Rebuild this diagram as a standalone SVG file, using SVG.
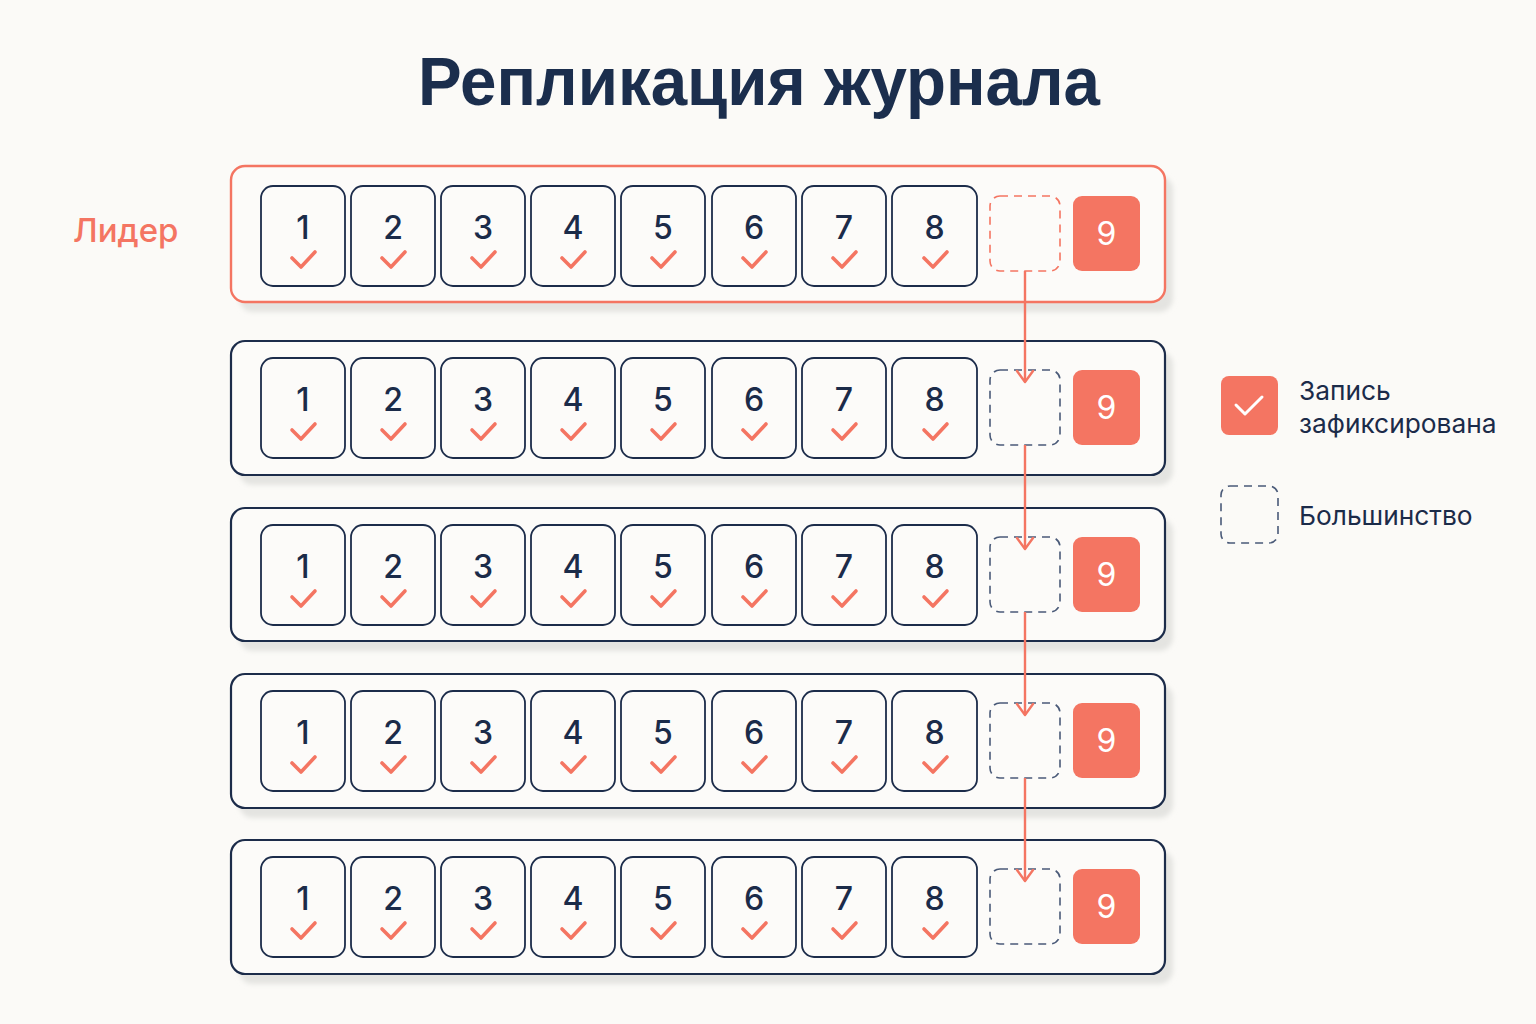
<svg xmlns="http://www.w3.org/2000/svg" xmlns:xlink="http://www.w3.org/1999/xlink" width="1536" height="1024" viewBox="0 0 1536 1024">
<defs>
  <style>
    .bg{fill:#fbfaf7}
    .shadow{fill:#e4e4e1;filter:url(#blur)}
    .row{fill:#fcfbf9;stroke:#1c2c4a;stroke-width:2.2}
    .row.leader{stroke:#f47562;stroke-width:2.4}
    .cell{fill:#fcfbf9;stroke:#1c2c4a;stroke-width:1.8}
    .num{font-family:Inter,"Noto Sans",sans-serif;font-size:32px;font-weight:500;fill:#1b2b49;text-anchor:middle}
    .chk{fill:none;stroke:#f47562;stroke-width:3.6;stroke-linecap:round;stroke-linejoin:round}
    .dash{fill:none;stroke:#4a5a78;stroke-width:1.6;stroke-dasharray:8 6}
    .dash.lead{stroke:#f47562}
    .nine{fill:#f47562}
    .ninet{font-family:Inter,"Noto Sans",sans-serif;font-size:32px;fill:#ffffff;text-anchor:middle}
    .conn{stroke:#f47562;stroke-width:2.4;fill:none}
    .title{font-family:"Liberation Sans",Arial,sans-serif;font-weight:bold;font-size:68px;fill:#1b2e4d;text-anchor:middle}
    .lead-lbl{font-family:Inter,"Noto Sans",sans-serif;font-size:33px;font-weight:500;fill:#f47562}
    .leg{font-family:Inter,"Noto Sans",sans-serif;font-size:26.3px;fill:#1b2b49}
  </style>
  <filter id="blur" x="-5%" y="-20%" width="110%" height="140%">
    <feGaussianBlur stdDeviation="2.5"/>
  </filter>
  <path id="chk" class="chk" d="M -11 -2 L -2 7 L 12 -8"/>
  <marker id="arr" viewBox="-14 -10 16 20" refX="0" refY="0" markerWidth="16" markerHeight="20" markerUnits="userSpaceOnUse" orient="auto">
    <path d="M -11 -8 L 0 0 L -11 8" fill="none" stroke="#f47562" stroke-width="2.4" stroke-linecap="round" stroke-linejoin="round"/>
  </marker>
</defs>
<rect class="bg" x="0" y="0" width="1536" height="1024"/>

<text class="title" x="759" y="105" textLength="682" lengthAdjust="spacingAndGlyphs">Репликация журнала</text>
<text id="leader-label" class="lead-lbl" x="73" y="242">Лидер</text>

<!-- Row 1 (leader) -->
<g id="row1">
  <rect class="shadow" x="239" y="176" width="934" height="136" rx="14"/>
  <rect class="row leader" x="231" y="166" width="934" height="136" rx="14"/>
  <rect class="cell" x="261" y="186" width="84" height="100" rx="12"/><text class="num" x="303" y="239">1</text><use href="#chk" x="303" y="260"/>
  <rect class="cell" x="351" y="186" width="84" height="100" rx="12"/><text class="num" x="393" y="239">2</text><use href="#chk" x="393" y="260"/>
  <rect class="cell" x="441" y="186" width="84" height="100" rx="12"/><text class="num" x="483" y="239">3</text><use href="#chk" x="483" y="260"/>
  <rect class="cell" x="531" y="186" width="84" height="100" rx="12"/><text class="num" x="573" y="239">4</text><use href="#chk" x="573" y="260"/>
  <rect class="cell" x="621" y="186" width="84" height="100" rx="12"/><text class="num" x="663" y="239">5</text><use href="#chk" x="663" y="260"/>
  <rect class="cell" x="712" y="186" width="84" height="100" rx="12"/><text class="num" x="754" y="239">6</text><use href="#chk" x="754" y="260"/>
  <rect class="cell" x="802" y="186" width="84" height="100" rx="12"/><text class="num" x="844" y="239">7</text><use href="#chk" x="844" y="260"/>
  <rect class="cell" x="892" y="186" width="85" height="100" rx="12"/><text class="num" x="934.5" y="239">8</text><use href="#chk" x="935" y="260"/>
  <rect class="dash lead" x="990" y="196" width="70" height="75" rx="10"/>
  <rect class="nine" x="1073" y="196" width="67" height="75" rx="9"/><text class="ninet" x="1106.5" y="245">9</text>
</g>

<!-- Row 2 -->
<g id="row2">
  <rect class="shadow" x="239" y="351" width="934" height="134" rx="14"/>
  <rect class="row" x="231" y="341" width="934" height="134" rx="14"/>
  <rect class="cell" x="261" y="358" width="84" height="100" rx="12"/><text class="num" x="303" y="411">1</text><use href="#chk" x="303" y="432"/>
  <rect class="cell" x="351" y="358" width="84" height="100" rx="12"/><text class="num" x="393" y="411">2</text><use href="#chk" x="393" y="432"/>
  <rect class="cell" x="441" y="358" width="84" height="100" rx="12"/><text class="num" x="483" y="411">3</text><use href="#chk" x="483" y="432"/>
  <rect class="cell" x="531" y="358" width="84" height="100" rx="12"/><text class="num" x="573" y="411">4</text><use href="#chk" x="573" y="432"/>
  <rect class="cell" x="621" y="358" width="84" height="100" rx="12"/><text class="num" x="663" y="411">5</text><use href="#chk" x="663" y="432"/>
  <rect class="cell" x="712" y="358" width="84" height="100" rx="12"/><text class="num" x="754" y="411">6</text><use href="#chk" x="754" y="432"/>
  <rect class="cell" x="802" y="358" width="84" height="100" rx="12"/><text class="num" x="844" y="411">7</text><use href="#chk" x="844" y="432"/>
  <rect class="cell" x="892" y="358" width="85" height="100" rx="12"/><text class="num" x="934.5" y="411">8</text><use href="#chk" x="935" y="432"/>
  <rect class="dash" x="990" y="370" width="70" height="75" rx="10"/>
  <rect class="nine" x="1073" y="370" width="67" height="75" rx="9"/><text class="ninet" x="1106.5" y="419">9</text>
</g>

<!-- Row 3 -->
<g id="row3">
  <rect class="shadow" x="239" y="518" width="934" height="133" rx="14"/>
  <rect class="row" x="231" y="508" width="934" height="133" rx="14"/>
  <rect class="cell" x="261" y="525" width="84" height="100" rx="12"/><text class="num" x="303" y="578">1</text><use href="#chk" x="303" y="599"/>
  <rect class="cell" x="351" y="525" width="84" height="100" rx="12"/><text class="num" x="393" y="578">2</text><use href="#chk" x="393" y="599"/>
  <rect class="cell" x="441" y="525" width="84" height="100" rx="12"/><text class="num" x="483" y="578">3</text><use href="#chk" x="483" y="599"/>
  <rect class="cell" x="531" y="525" width="84" height="100" rx="12"/><text class="num" x="573" y="578">4</text><use href="#chk" x="573" y="599"/>
  <rect class="cell" x="621" y="525" width="84" height="100" rx="12"/><text class="num" x="663" y="578">5</text><use href="#chk" x="663" y="599"/>
  <rect class="cell" x="712" y="525" width="84" height="100" rx="12"/><text class="num" x="754" y="578">6</text><use href="#chk" x="754" y="599"/>
  <rect class="cell" x="802" y="525" width="84" height="100" rx="12"/><text class="num" x="844" y="578">7</text><use href="#chk" x="844" y="599"/>
  <rect class="cell" x="892" y="525" width="85" height="100" rx="12"/><text class="num" x="934.5" y="578">8</text><use href="#chk" x="935" y="599"/>
  <rect class="dash" x="990" y="537" width="70" height="75" rx="10"/>
  <rect class="nine" x="1073" y="537" width="67" height="75" rx="9"/><text class="ninet" x="1106.5" y="586">9</text>
</g>

<!-- Row 4 -->
<g id="row4">
  <rect class="shadow" x="239" y="684" width="934" height="134" rx="14"/>
  <rect class="row" x="231" y="674" width="934" height="134" rx="14"/>
  <rect class="cell" x="261" y="691" width="84" height="100" rx="12"/><text class="num" x="303" y="744">1</text><use href="#chk" x="303" y="765"/>
  <rect class="cell" x="351" y="691" width="84" height="100" rx="12"/><text class="num" x="393" y="744">2</text><use href="#chk" x="393" y="765"/>
  <rect class="cell" x="441" y="691" width="84" height="100" rx="12"/><text class="num" x="483" y="744">3</text><use href="#chk" x="483" y="765"/>
  <rect class="cell" x="531" y="691" width="84" height="100" rx="12"/><text class="num" x="573" y="744">4</text><use href="#chk" x="573" y="765"/>
  <rect class="cell" x="621" y="691" width="84" height="100" rx="12"/><text class="num" x="663" y="744">5</text><use href="#chk" x="663" y="765"/>
  <rect class="cell" x="712" y="691" width="84" height="100" rx="12"/><text class="num" x="754" y="744">6</text><use href="#chk" x="754" y="765"/>
  <rect class="cell" x="802" y="691" width="84" height="100" rx="12"/><text class="num" x="844" y="744">7</text><use href="#chk" x="844" y="765"/>
  <rect class="cell" x="892" y="691" width="85" height="100" rx="12"/><text class="num" x="934.5" y="744">8</text><use href="#chk" x="935" y="765"/>
  <rect class="dash" x="990" y="703" width="70" height="75" rx="10"/>
  <rect class="nine" x="1073" y="703" width="67" height="75" rx="9"/><text class="ninet" x="1106.5" y="752">9</text>
</g>

<!-- Row 5 -->
<g id="row5">
  <rect class="shadow" x="239" y="850" width="934" height="134" rx="14"/>
  <rect class="row" x="231" y="840" width="934" height="134" rx="14"/>
  <rect class="cell" x="261" y="857" width="84" height="100" rx="12"/><text class="num" x="303" y="910">1</text><use href="#chk" x="303" y="931"/>
  <rect class="cell" x="351" y="857" width="84" height="100" rx="12"/><text class="num" x="393" y="910">2</text><use href="#chk" x="393" y="931"/>
  <rect class="cell" x="441" y="857" width="84" height="100" rx="12"/><text class="num" x="483" y="910">3</text><use href="#chk" x="483" y="931"/>
  <rect class="cell" x="531" y="857" width="84" height="100" rx="12"/><text class="num" x="573" y="910">4</text><use href="#chk" x="573" y="931"/>
  <rect class="cell" x="621" y="857" width="84" height="100" rx="12"/><text class="num" x="663" y="910">5</text><use href="#chk" x="663" y="931"/>
  <rect class="cell" x="712" y="857" width="84" height="100" rx="12"/><text class="num" x="754" y="910">6</text><use href="#chk" x="754" y="931"/>
  <rect class="cell" x="802" y="857" width="84" height="100" rx="12"/><text class="num" x="844" y="910">7</text><use href="#chk" x="844" y="931"/>
  <rect class="cell" x="892" y="857" width="85" height="100" rx="12"/><text class="num" x="934.5" y="910">8</text><use href="#chk" x="935" y="931"/>
  <rect class="dash" x="990" y="869" width="70" height="75" rx="10"/>
  <rect class="nine" x="1073" y="869" width="67" height="75" rx="9"/><text class="ninet" x="1106.5" y="918">9</text>
</g>

<!-- Connectors -->
<g id="connectors">
  <line class="conn" x1="1025" y1="271" x2="1025" y2="382" marker-end="url(#arr)"/>
  <line class="conn" x1="1025" y1="445" x2="1025" y2="549" marker-end="url(#arr)"/>
  <line class="conn" x1="1025" y1="612" x2="1025" y2="715" marker-end="url(#arr)"/>
  <line class="conn" x1="1025" y1="778" x2="1025" y2="881" marker-end="url(#arr)"/>
</g>

<!-- Legend -->
<g id="legend-committed">
  <rect class="nine" x="1221" y="376" width="57" height="59" rx="8"/>
  <path d="M 1236 405 L 1245 414 L 1262 397" fill="none" stroke="#ffffff" stroke-width="3" stroke-linecap="round" stroke-linejoin="round"/>
  <text class="leg" x="1299" y="400">Запись</text>
  <text class="leg" x="1299" y="433">зафиксирована</text>
</g>
<g id="legend-majority">
  <rect class="dash" x="1221" y="486" width="57" height="57" rx="9"/>
  <text class="leg" x="1299" y="525">Большинство</text>
</g>
</svg>
